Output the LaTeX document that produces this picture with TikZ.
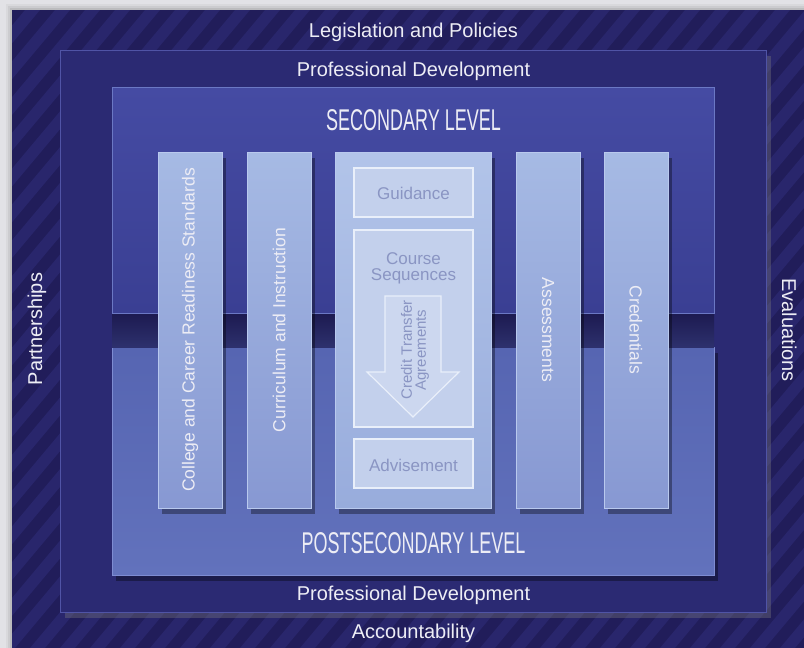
\documentclass[tikz,border=0pt]{standalone}
\usepackage{fontspec}
\setmainfont{Liberation Sans}
\newfontfamily\levelfont[FakeStretch=0.6]{Liberation Sans}
\usetikzlibrary{
  calc, % Koordinaten
  shadows, % Schatten unter den Kaesten
  positioning
}

% Farben
\definecolor{rand}{HTML}{E2E2E6}
\definecolor{grund}{HTML}{211D5A}
\definecolor{streifen}{HTML}{29266C}
\definecolor{pdblau}{HTML}{2B2A73}
\definecolor{pdkante}{HTML}{5054A6}
\definecolor{sekoben}{HTML}{454BA3}
\definecolor{sekunten}{HTML}{3A3F93}
\definecolor{sekkante}{HTML}{6B78C4}
\definecolor{postoben}{HTML}{5665B2}
\definecolor{postunten}{HTML}{6272BC}
\definecolor{postkante}{HTML}{7E8CD2}
\definecolor{spalt}{HTML}{1C1A50}
\definecolor{saeuleoben}{HTML}{A6BAE4}
\definecolor{saeuleunten}{HTML}{8798D2}
\definecolor{saeulekante}{HTML}{B9C9EE}
\definecolor{mitteoben}{HTML}{B2C4E9}
\definecolor{mitteunten}{HTML}{98ACDC}
\definecolor{kastenfill}{HTML}{C3D0EC}
\definecolor{kastenkante}{HTML}{E9EFFA}
\definecolor{kastenschrift}{HTML}{8A95C3}
\definecolor{labelweiss}{HTML}{EDEDF5}

\begin{document}
\begin{tikzpicture}[
    x=1pt, y=-1pt,
    schrift/.style={text=labelweiss, font=\fontsize{20}{24}\selectfont},
    ebene/.style={text=labelweiss, font=\levelfont\fontsize{30}{32}\selectfont},
    schatten/.style={drop shadow={shadow xshift=4pt, shadow yshift=-6pt, opacity=0.35, fill=black}},
    saeule/.style={draw=saeulekante, line width=0.8pt, top color=saeuleoben,
      bottom color=saeuleunten, minimum width=64, minimum height=356, schatten},
    saeulentext/.style={text=labelweiss, font=\fontsize{17.5}{20}\selectfont},
    kasten/.style={draw=kastenkante, line width=1.2pt, fill=kastenfill, minimum width=119},
    kastentext/.style={text=kastenschrift, font=\fontsize{17}{16}\selectfont, align=center},
  ]

  % Rahmen
  \useasboundingbox (0,0) rectangle (804,648);
  \fill[rand] (0,0) rectangle (804,648);
  \foreach \d/\o in {6/0.04, 4/0.06, 2/0.08}
    \fill[black, opacity=\o] (12-\d,10-\d) rectangle (804,648);

  % Hintergrund mit Streifen
  \begin{scope}
    \clip (12,10) rectangle (804,648);
    \fill[grund] (12,10) rectangle (804,648);
    \foreach \s in {-540,-510,...,810}
      \fill[streifen] (\s,648) -- ++(535,-638) -- ++(15,0) -- ++(-535,638) -- cycle;
  \end{scope}

  % Professional Development
  \node[draw=pdkante, line width=1pt, fill=pdblau, minimum width=706, minimum height=562,
    drop shadow={shadow xshift=5pt, shadow yshift=-6pt, opacity=0.35}] (pd) at (413,331) {};

  % Ebenen
  \node[draw=postkante, line width=1pt, top color=postoben, bottom color=postunten,
    minimum width=602, minimum height=228, schatten] (post) at (413,461) {};
  \shade[top color=spalt, bottom color=spalt!70!postoben] (112,313) rectangle (714,347);
  \node[draw=sekkante, line width=1pt, top color=sekoben, bottom color=sekunten,
    minimum width=602, minimum height=226] (sek) at (413,200) {};

  % Saeulen
  \foreach \n/\x in {standards/190, lehrplan/279, pruefung/548, nachweis/636}
    \node[saeule] (\n) at (\x,330) {};
  \node[saeule, minimum width=156, top color=mitteoben, bottom color=mitteunten] (mitte) at (413,330) {};

  % Kaesten in der Mitte
  \node[kasten, minimum height=49] (beratung) at (413.5,192.5) {};
  \node[kasten, minimum height=197] (folge) at (413.5,328.5) {};
  \node[kasten, minimum height=49] (studien) at (413.5,463.5) {};
  \draw[draw=kastenkante, line width=1.2pt, fill=kastenfill!85!white]
    (385,296) -- (441,296) -- (441,372) -- (459,372) -- (413,417) -- (367,372) -- (385,372) -- cycle;

  % Texte aussen
  \node[schrift, anchor=base] (gesetz) at (413.5,37) {Legislation and Policies};
  \node[schrift, anchor=base] (pdoben) at (413.5,76) {Professional Development};
  \node[schrift, anchor=base] (pdunten) at (413.5,600) {Professional Development};
  \node[schrift, anchor=base] (rechen) at (413.5,638) {Accountability};
  \node[schrift, anchor=base, rotate=90] (partner) at (42,329) {Partnerships};
  \node[schrift, anchor=base, rotate=-90] (evaluation) at (782,330) {Evaluations};
  \node[ebene, anchor=base] (sektext) at (413.5,130) {SECONDARY LEVEL};
  \node[ebene, anchor=base] (posttext) at (413.5,553) {POSTSECONDARY LEVEL};

  % Texte in den Saeulen
  \node[saeulentext, rotate=90] at (standards) {College and Career Readiness Standards};
  \node[saeulentext, rotate=90] at (lehrplan) {Curriculum and Instruction};
  \node[saeulentext, rotate=-90] at (pruefung) {Assessments};
  \node[saeulentext, rotate=-90] at (nachweis) {Credentials};

  % Texte in den Kaesten
  \node[kastentext, anchor=base] (beratungtext) at (413.5,199) {Guidance};
  \node[kastentext] (folgetext) at (413.5,268) {Course\\Sequences};
  \node[kastentext, font=\fontsize{15}{14}\selectfont, rotate=90] (transfer) at (415,350) {Credit Transfer\\Agreements};
  \node[kastentext, anchor=base] (studientext) at (413.5,471) {Advisement};
\end{tikzpicture}
\end{document}
